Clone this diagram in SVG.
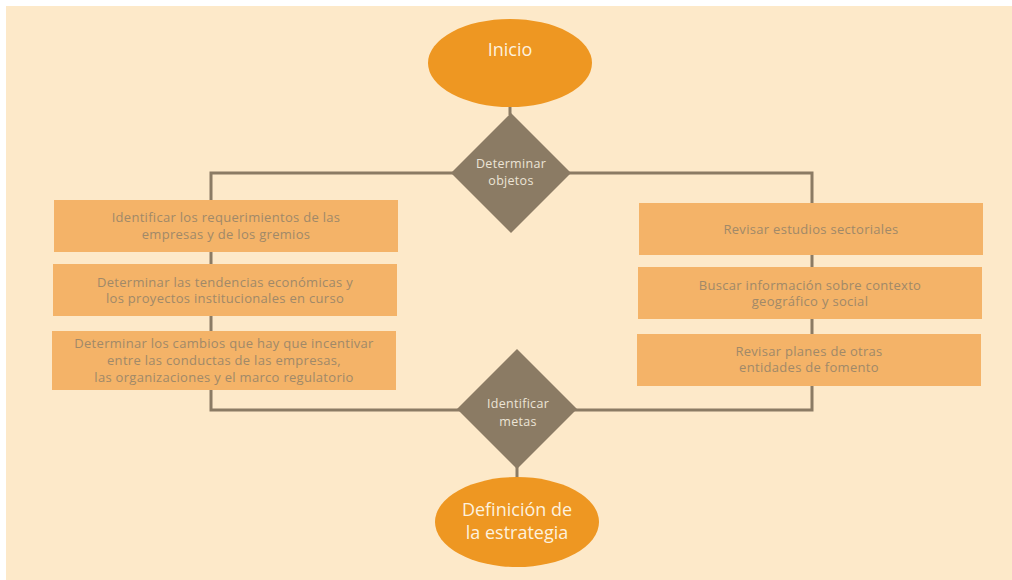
<svg xmlns="http://www.w3.org/2000/svg" width="1012" height="580" viewBox="0 0 1012 580">
<style>
.bg{fill:#fde9c9}
.conn{fill:none;stroke:#8b7b64;stroke-width:3}
.box{fill:#f4b368}
.btxt{font-family:"Open Sans","Noto Sans",sans-serif;font-size:13px;letter-spacing:0.3px;fill:#a08969;text-anchor:middle}
.dia{fill:#8b7b64}
.dtxt{font-family:"Open Sans","Noto Sans",sans-serif;font-size:12.5px;letter-spacing:0.3px;fill:#ece4d6;text-anchor:middle}
.ell{fill:#ee9722}
.etxt{font-family:"Open Sans","Noto Sans",sans-serif;font-size:18px;fill:#fdf1de;text-anchor:middle}
</style>
<rect class="bg" x="6" y="6" width="1006" height="574"/>
<g id="connectors">
<line class="conn" x1="510" y1="105" x2="510" y2="115"/>
<polyline class="conn" points="211,390 211,173 812,173 812,386"/>
<polyline class="conn" points="211,388 211,410 812,410 812,384"/>
<line class="conn" x1="517" y1="466" x2="517" y2="480"/>
</g>
<g id="inicio">
<ellipse class="ell" cx="510" cy="63" rx="82" ry="44"/>
<text class="etxt" x="510" y="56">Inicio</text>
</g>
<g id="determinar-objetos">
<polygon class="dia" points="511,113 571,173 511,233 451,173"/>
<text class="dtxt" x="511" y="168">Determinar</text>
<text class="dtxt" x="511" y="185">objetos</text>
</g>
<g id="l1">
<rect class="box" x="54" y="200" width="344" height="52"/>
<text class="btxt" x="226" y="222">Identificar los requerimientos de las</text>
<text class="btxt" x="226" y="239">empresas y de los gremios</text>
</g>
<g id="l2">
<rect class="box" x="53" y="264" width="344" height="52"/>
<text class="btxt" x="225" y="287">Determinar las tendencias económicas y</text>
<text class="btxt" x="225" y="303">los proyectos institucionales en curso</text>
</g>
<g id="l3">
<rect class="box" x="52" y="331" width="344" height="59"/>
<text class="btxt" x="224" y="348">Determinar los cambios que hay que incentivar</text>
<text class="btxt" x="224" y="365">entre las conductas de las empresas,</text>
<text class="btxt" x="224" y="382">las organizaciones y el marco regulatorio</text>
</g>
<g id="r1">
<rect class="box" x="639" y="203" width="344" height="52"/>
<text class="btxt" x="811" y="234">Revisar estudios sectoriales</text>
</g>
<g id="r2">
<rect class="box" x="638" y="267" width="344" height="52"/>
<text class="btxt" x="810" y="290">Buscar información sobre contexto</text>
<text class="btxt" x="810" y="306">geográfico y social</text>
</g>
<g id="r3">
<rect class="box" x="637" y="334" width="344" height="52"/>
<text class="btxt" x="809" y="356">Revisar planes de otras</text>
<text class="btxt" x="809" y="372">entidades de fomento</text>
</g>
<g id="identificar-metas">
<polygon class="dia" points="517,349 577,409 517,469 457,409"/>
<text class="dtxt" x="518" y="408">Identificar</text>
<text class="dtxt" x="518" y="426">metas</text>
</g>
<g id="definicion">
<ellipse class="ell" cx="517" cy="522" rx="82" ry="45"/>
<text class="etxt" x="517" y="516">Definición de</text>
<text class="etxt" x="517" y="539">la estrategia</text>
</g>
</svg>
